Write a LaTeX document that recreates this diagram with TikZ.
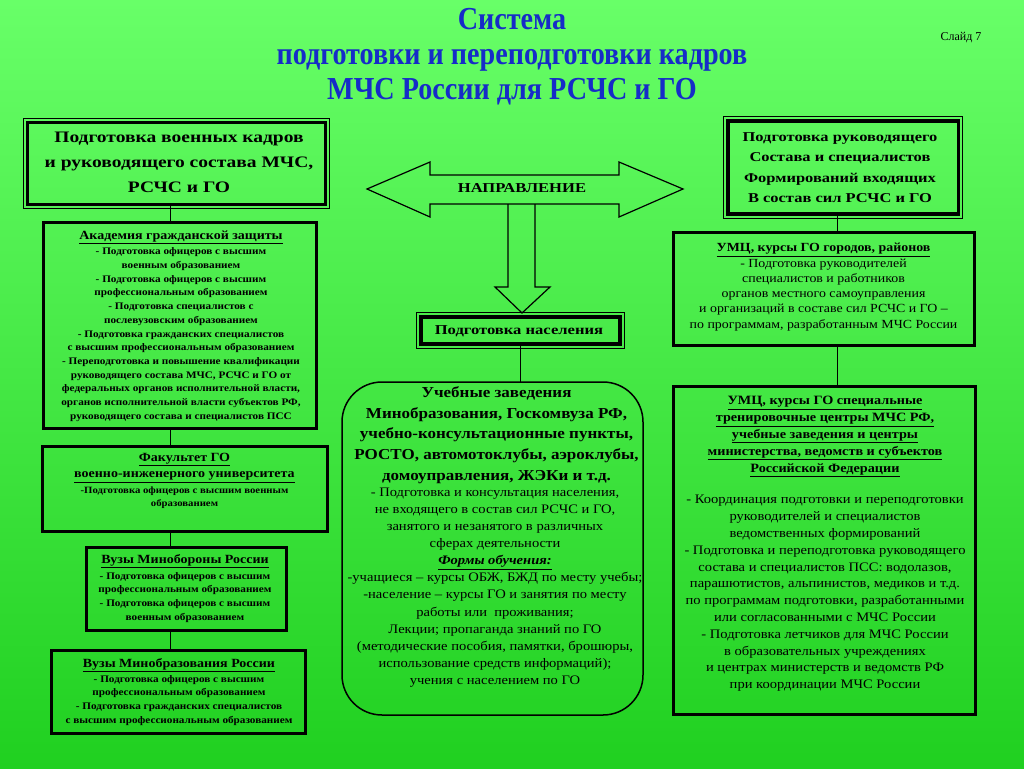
\documentclass[tikz,border=0pt]{standalone}
\usepackage{fontspec}
\setmainfont[FakeStretch=1.12]{Liberation Serif}
\newfontfamily\hfont[FakeStretch=1.22]{Liberation Serif}
\newfontfamily\titlefont[FakeStretch=0.88]{Liberation Serif}
\newfontfamily\plainfont{Liberation Serif}
\usetikzlibrary{calc}
\definecolor{bgtop}{RGB}{104,255,104}
\definecolor{bgbot}{RGB}{32,208,32}
\definecolor{ttl}{RGB}{22,44,200}
\newcommand\uln[1]{\underline{#1}}
\newcommand\thinframe[2]{\draw[line width=0.9pt] ($(#1.north west)+(-#2,#2)$) rectangle ($(#1.south east)+(#2,-#2)$);}
\newcommand\fsmall{\fontsize{10}{13.7}\selectfont\bfseries}
\newcommand\fhead{\fontsize{12.5}{13.7}\selectfont\bfseries}
\tikzset{
  box/.style={draw=black, line width=3pt, inner sep=0pt, outer sep=0pt},
  dbox/.style={draw=black, line width=3.5pt, inner sep=0pt, outer sep=0pt},
  conn/.style={draw=black, line width=1pt},
  blockarrow/.style={draw=black, line width=1.2pt, line join=miter},
  txt/.style={inner sep=0pt, outer sep=0pt, align=center}
}
\begin{document}
\begin{tikzpicture}[x=1pt,y=-1pt]
\shade[top color=bgtop, bottom color=bgbot] (0,0) rectangle (1024,768);
\useasboundingbox (0,0) rectangle (1024,768);

% title
\node[txt, font=\titlefont\fontsize{32}{35}\selectfont\bfseries, text=ttl] (title) at (512,57)
  {Система\\подготовки и переподготовки кадров\\МЧС России для РСЧС и ГО};
\node[txt, font=\plainfont\fontsize{12}{14}\selectfont] (slide) at (961,38) {Слайд 7};

% left column
\node[dbox, minimum width=297.8pt, minimum height=81.8pt] (lt) at (176.4,163.4) {};
\thinframe{lt}{4.3pt}
\node[txt, font=\hfont\fontsize{16}{25}\selectfont\bfseries] (ltt) at (179,162)
  {Подготовка военных кадров\\и руководящего состава МЧС,\\РСЧС и ГО};

\node[box, minimum width=273pt, minimum height=206pt] (acad) at (179.5,325) {};
\node[txt, font=\fsmall] (acadt) at (181,326)
  {{\fhead\uln{Академия гражданской защиты}}\\[2pt]
   - Подготовка офицеров с высшим\\
   военным образованием\\
   - Подготовка офицеров с высшим\\
   профессиональным образованием\\
   - Подготовка специалистов с\\
   послевузовским образованием\\
   - Подготовка гражданских специалистов\\
   с высшим профессиональным образованием\\
   - Переподготовка и повышение квалификации\\
   руководящего состава МЧС, РСЧС и ГО от\\
   федеральных органов исполнительной власти,\\
   органов исполнительной власти субъектов РФ,\\
   руководящего состава и специалистов ПСС};

\node[box, minimum width=285pt, minimum height=85pt] (fac) at (184.5,489) {};
\node[txt, font=\fontsize{9.6}{13.5}\selectfont\bfseries] (fact) at (184.5,481)
  {{\fontsize{12.5}{14}\selectfont\bfseries\uln{Факультет ГО}}\\[3pt]
   {\fontsize{12.5}{14}\selectfont\bfseries\uln{военно-инженерного университета}}\\[2pt]
   -Подготовка офицеров с высшим военным\\
   образованием};

\node[box, minimum width=200.5pt, minimum height=83pt] (mo) at (186.25,588.5) {};
\node[txt, font=\fsmall] (mot) at (185,588.5)
  {{\fhead\uln{Вузы Минобороны России}}\\[2pt]
   - Подготовка офицеров с высшим\\
   профессиональным образованием\\
   - Подготовка офицеров с высшим\\
   военным образованием};

\node[box, minimum width=253.5pt, minimum height=83pt] (mobr) at (178.5,691.5) {};
\node[txt, font=\fsmall] (mobrt) at (179,692)
  {{\fhead\uln{Вузы Минобразования России}}\\[1pt]
   - Подготовка офицеров с высшим\\
   профессиональным образованием\\
   - Подготовка гражданских специалистов\\
   с высшим профессиональным образованием};

\coordinate (lx) at (170,0);
\draw[conn] (lt.south -| lx) -- (acad.north -| lx);
\draw[conn] (acad.south -| lx) -- (fac.north -| lx);
\draw[conn] (fac.south -| lx) -- (mo.north -| lx);
\draw[conn] (mo.south -| lx) -- (mobr.north -| lx);

% centre
\draw[blockarrow] (508,204) -- (508,287) -- (495,287) -- (522,313) -- (550,287) -- (535,287) -- (535,204);
\draw[blockarrow] (367,189) -- (430,162) -- (430,175) -- (619,175) -- (619,162) -- (683,189)
  -- (619,217) -- (619,204) -- (430,204) -- (430,217) -- cycle;
\node[txt, font=\hfont\fontsize{13.6}{16}\selectfont\bfseries] (napr) at (522,188) {НАПРАВЛЕНИЕ};

\node[dbox, minimum width=199pt, minimum height=27pt] (pop) at (520.5,330.5) {};
\thinframe{pop}{4.3pt}
\node[txt, font=\hfont\fontsize{13.6}{16}\selectfont\bfseries] (popt) at (519,331) {Подготовка населения};

\node[draw=black, line width=1.5pt, rounded corners=40pt, minimum width=301pt, minimum height=333pt,
  inner sep=0pt, outer sep=0pt] (rnd) at (492.5,548.5) {};
\node[txt, font=\fontsize{15.2}{20.8}\selectfont\bfseries] (rndh) at (496.5,435)
  {Учебные заведения\\
   Минобразования, Госкомвуза РФ,\\
   учебно-консультационные пункты,\\
   РОСТО, автомотоклубы, аэроклубы,\\
   домоуправления, ЖЭКи и т.д.};
\node[txt, font=\fontsize{13}{17.1}\selectfont] (rndb) at (495,587.5)
  {- Подготовка и консультация населения,\\
   не входящего в состав сил РСЧС и ГО,\\
   занятого и незанятого в различных\\
   сферах деятельности\\
   {\bfseries\itshape\uln{Формы обучения:}}\\
   -учащиеся – курсы ОБЖ, БЖД по месту учебы;\\
   -население – курсы ГО и занятия по месту\\
   работы или\ \ проживания;\\
   Лекции; пропаганда знаний по ГО\\
   (методические пособия, памятки, брошюры,\\
   использование средств информаций);\\
   учения с населением по ГО};

\coordinate (cx) at (520,0);
\draw[conn] (pop.south -| cx) -- (rnd.north -| cx);

% right column
\node[dbox, minimum width=230.3pt, minimum height=92.7pt] (rt) at (843.2,167.4) {};
\thinframe{rt}{4.3pt}
\node[txt, font=\hfont\fontsize{13.5}{20.3}\selectfont\bfseries] (rtt) at (840,167.5)
  {Подготовка руководящего\\Состава и специалистов\\Формирований входящих\\В состав сил РСЧС и ГО};

\node[box, minimum width=301pt, minimum height=113.5pt] (umc1) at (823.5,288.75) {};
\node[txt, font=\fontsize{12.4}{15.3}\selectfont] (umc1t) at (823.5,287)
  {{\fontsize{12.4}{15.3}\selectfont\bfseries\uln{УМЦ, курсы ГО городов, районов}}\\
   - Подготовка руководителей\\
   специалистов и работников\\
   органов местного самоуправления\\
   и организаций в составе сил РСЧС и ГО –\\
   по программам, разработанным МЧС России};

\node[box, minimum width=302.5pt, minimum height=328pt] (umc2) at (824.25,550) {};
\node[txt, font=\fontsize{13}{16.8}\selectfont] (umc2t) at (825,544)
  {{\fontsize{12.7}{16.8}\selectfont\bfseries\uln{УМЦ, курсы ГО специальные}}\\
   {\fontsize{12.7}{16.8}\selectfont\bfseries\uln{тренировочные центры МЧС РФ,}}\\
   {\fontsize{12.7}{16.8}\selectfont\bfseries\uln{учебные заведения и центры}}\\
   {\fontsize{12.7}{16.8}\selectfont\bfseries\uln{министерства, ведомств и субъектов}}\\
   {\fontsize{12.7}{16.8}\selectfont\bfseries\uln{Российской Федерации}}\\[15pt]
   - Координация подготовки и переподготовки\\
   руководителей и специалистов\\
   ведомственных формирований\\
   - Подготовка и переподготовка руководящего\\
   состава и специалистов ПСС: водолазов,\\
   парашютистов, альпинистов, медиков и т.д.\\
   по программам подготовки, разработанными\\
   или согласованными с МЧС России\\
   - Подготовка летчиков для МЧС России\\
   в образовательных учреждениях\\
   и центрах министерств и ведомств РФ\\
   при координации МЧС России};

\coordinate (rx) at (837,0);
\draw[conn] (rt.south -| rx) -- (umc1.north -| rx);
\draw[conn] (umc1.south -| rx) -- (umc2.north -| rx);
\end{tikzpicture}
\end{document}
